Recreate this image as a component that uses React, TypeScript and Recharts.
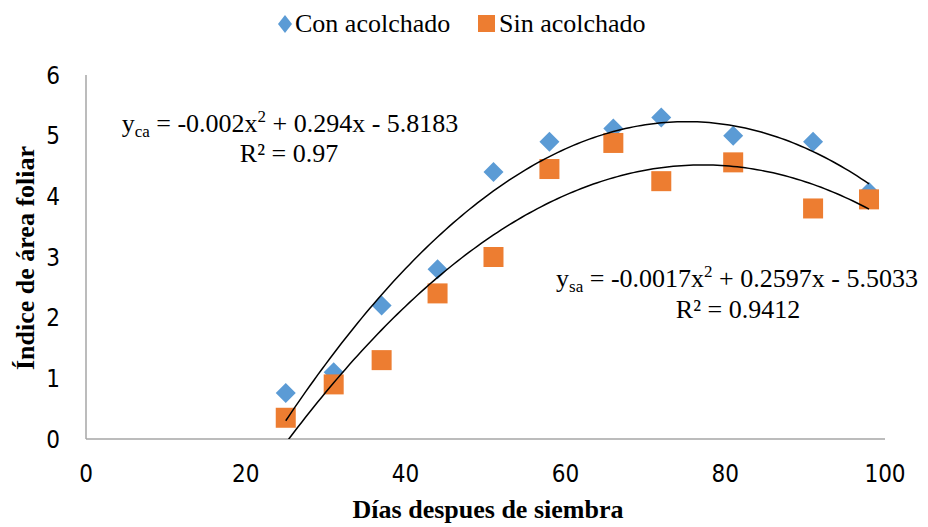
import React from 'react';
import { ScatterChart, Scatter, XAxis, YAxis } from 'recharts';

// days after sowing
const dias = [25, 31, 37, 44, 51, 58, 66, 72, 81, 91, 98];
// leaf area index, with mulch
const conAcolchado = [0.76, 1.1, 2.2, 2.8, 4.4, 4.9, 5.12, 5.3, 5.0, 4.9, 4.07];
// leaf area index, without mulch
const sinAcolchado = [0.35, 0.9, 1.3, 2.4, 3.0, 4.45, 4.88, 4.25, 4.56, 3.8, 3.95];

const xTicks = [0, 20, 40, 60, 80, 100];
const yTicks = [0, 1, 2, 3, 4, 5, 6];

const BLUE = '#5B9BD5';
const ORANGE = '#ED7D31';
const AXIS = '#A6A6A6';
const SERIF = '"Liberation Serif", "Times New Roman", serif';
const SANS = '"Liberation Sans Narrow", "DejaVu Sans Condensed", "Liberation Sans", sans-serif';

// least squares quadratic fit (same as the polynomial trendline of the sheet)
function fitQuad(xs: number[], ys: number[]) {
  let s0 = 0, s1 = 0, s2 = 0, s3 = 0, s4 = 0, t0 = 0, t1 = 0, t2 = 0;
  xs.forEach((x, i) => {
    const y = ys[i];
    s0 += 1; s1 += x; s2 += x * x; s3 += x ** 3; s4 += x ** 4;
    t0 += y; t1 += x * y; t2 += x * x * y;
  });
  // solve [s4 s3 s2; s3 s2 s1; s2 s1 s0] [a b c] = [t2 t1 t0]
  const m = [
    [s4, s3, s2, t2],
    [s3, s2, s1, t1],
    [s2, s1, s0, t0],
  ];
  for (let i = 0; i < 3; i++) {
    for (let k = i + 1; k < 3; k++) {
      const f = m[k][i] / m[i][i];
      for (let j = i; j < 4; j++) m[k][j] -= f * m[i][j];
    }
  }
  const c = m[2][3] / m[2][2];
  const b = (m[1][3] - m[1][2] * c) / m[1][1];
  const a = (m[0][3] - m[0][2] * c - m[0][1] * b) / m[0][0];
  return { a, b, c };
}

function trend(ys: number[]) {
  const { a, b, c } = fitQuad(dias, ys);
  const pts: any[] = [];
  for (let x = dias[0]; x <= dias[dias.length - 1]; x += 0.5) {
    pts.push({ x, y: a * x * x + b * x + c });
  }
  return pts;
}

const conData = dias.map((x, i) => ({ x, y: conAcolchado[i] }));
const sinData = dias.map((x, i) => ({ x, y: sinAcolchado[i] }));
const conTrend = trend(conAcolchado);
const sinTrend = trend(sinAcolchado);

function Diamond(props: any) {
  const { cx, cy } = props;
  const r = 10;
  return <polygon points={`${cx},${cy - r} ${cx + r},${cy} ${cx},${cy + r} ${cx - r},${cy}`} fill={BLUE} />;
}

function Square(props: any) {
  const { cx, cy } = props;
  return <rect x={cx - 10} y={cy - 10} width={20} height={20} fill={ORANGE} />;
}

const Nothing = () => <g />;

export default function App() {
  const tickStyle = { fontFamily: SANS, fontSize: 24, fill: '#000' };
  return (
    <div style={{ position: 'absolute', left: 0, top: 0, width: 928, height: 527, background: '#fff' }}>
      <ScatterChart width={928} height={527} margin={{ top: 75, right: 43, bottom: 0, left: 0 }}>
        <XAxis
          type="number"
          dataKey="x"
          domain={[0, 100]}
          ticks={xTicks}
          allowDataOverflow
          axisLine={{ stroke: AXIS, strokeWidth: 1.5 }}
          tickLine={false}
          tickSize={0}
          tickMargin={26}
          height={88}
          tick={tickStyle}
        />
        <YAxis
          type="number"
          dataKey="y"
          domain={[0, 6]}
          ticks={yTicks}
          allowDataOverflow
          axisLine={{ stroke: AXIS, strokeWidth: 1.5 }}
          tickLine={false}
          tickSize={0}
          tickMargin={26}
          width={86}
          tick={tickStyle}
        />
        <Scatter data={conData} shape={<Diamond />} isAnimationActive={false} />
        <Scatter data={sinData} shape={<Square />} isAnimationActive={false} />
        <Scatter data={conTrend} shape={<Nothing />} line={{ stroke: '#000', strokeWidth: 1.5 }} lineType="joint" isAnimationActive={false} />
        <Scatter data={sinTrend} shape={<Nothing />} line={{ stroke: '#000', strokeWidth: 1.5 }} lineType="joint" isAnimationActive={false} />
      </ScatterChart>

      <svg width={928} height={527} style={{ position: 'absolute', left: 0, top: 0, pointerEvents: 'none' }}>
        {/* legend */}
        <polygon points="285,15 292,24 285,33 278,24" fill={BLUE} />
        <text x={295} y={32} fontFamily={SERIF} fontSize={26}>Con acolchado</text>
        <rect x={478} y={15} width={17} height={17} fill={ORANGE} />
        <text x={499} y={32} fontFamily={SERIF} fontSize={26}>Sin acolchado</text>

        {/* trendline labels */}
        <text x={290} y={132} textAnchor="middle" fontFamily={SERIF} fontSize={26}>
          y<tspan fontSize={17} dy={5}>ca</tspan>
          <tspan dy={-5}> = -0.002x</tspan>
          <tspan fontSize={17} dy={-10}>2</tspan>
          <tspan dy={10}> + 0.294x - 5.8183</tspan>
        </text>
        <text x={289} y={162} textAnchor="middle" fontFamily={SERIF} fontSize={26}>R² = 0.97</text>
        <text x={737} y={287} textAnchor="middle" fontFamily={SERIF} fontSize={26}>
          y<tspan fontSize={17} dy={5}>sa</tspan>
          <tspan dy={-5}> = -0.0017x</tspan>
          <tspan fontSize={17} dy={-10}>2</tspan>
          <tspan dy={10}> + 0.2597x - 5.5033</tspan>
        </text>
        <text x={738} y={318} textAnchor="middle" fontFamily={SERIF} fontSize={26}>R² = 0.9412</text>

        {/* axis titles */}
        <text x={488} y={518} textAnchor="middle" fontFamily={SERIF} fontSize={26} fontWeight="bold">Días despues de siembra</text>
        <text x={34} y={258} textAnchor="middle" fontFamily={SERIF} fontSize={26} fontWeight="bold" transform="rotate(-90 34 258)">Índice de área foliar</text>
      </svg>
    </div>
  );
}
